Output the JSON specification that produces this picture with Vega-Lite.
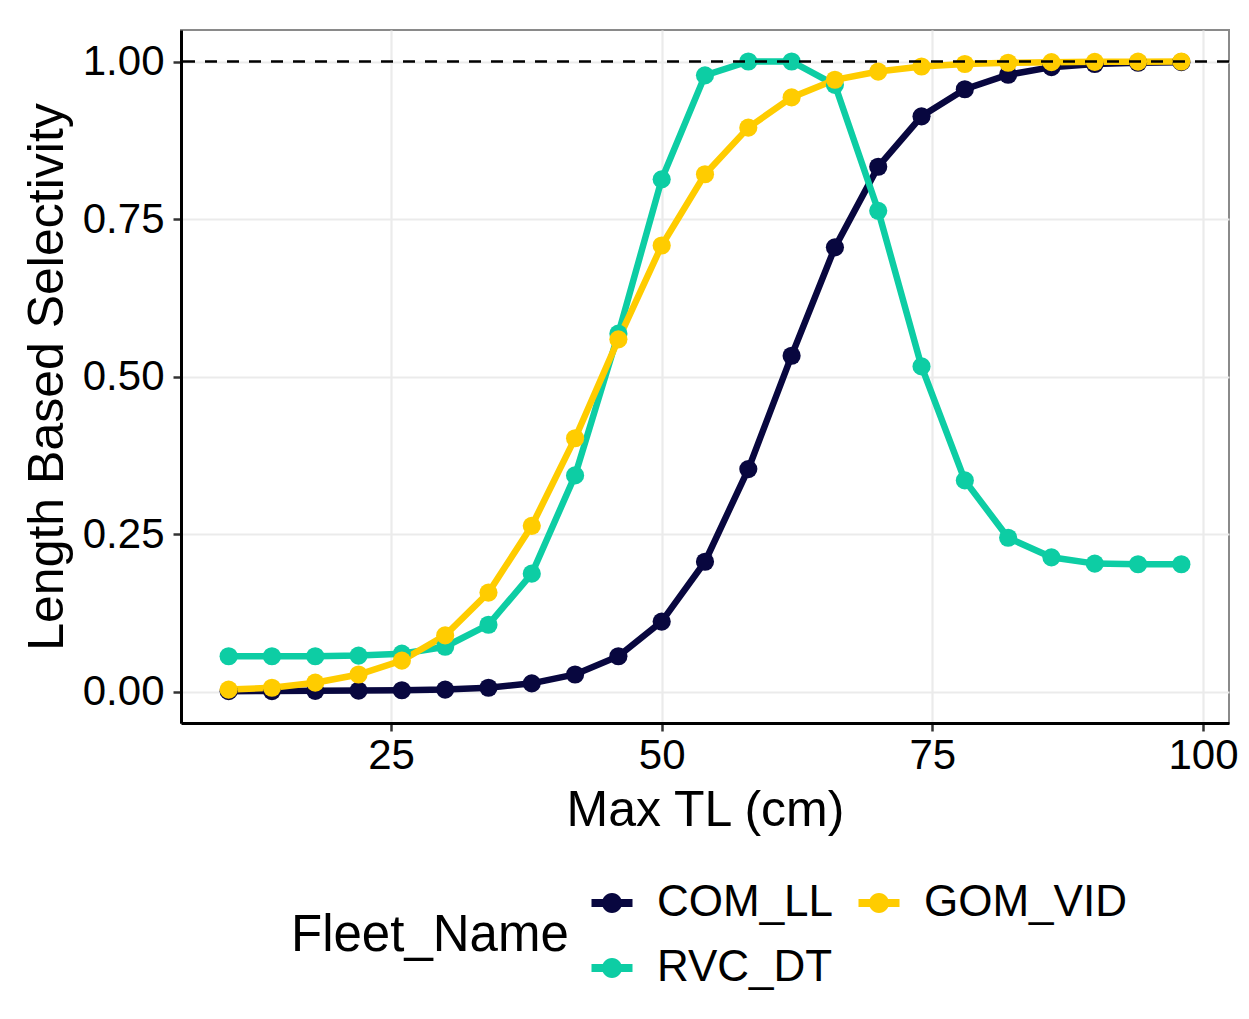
{
  "$schema": "https://vega.github.io/schema/vega-lite/v6.json",
  "width": 1048,
  "height": 693,
  "autosize": {"type": "none"},
  "padding": {"left": 181, "top": 30, "right": 20, "bottom": 296},
  "background": "white",
  "config": {
    "font": "Liberation Sans",
    "view": {"stroke": "#8a8a8a", "strokeWidth": 2},
    "axis": {
      "labelFont": "Liberation Sans",
      "titleFont": "Liberation Sans",
      "labelColor": "#000000",
      "titleColor": "#000000",
      "labelFontSize": 42,
      "titleFontSize": 50,
      "titleFontWeight": "normal",
      "gridColor": "#EBEBEB",
      "gridWidth": 2.2,
      "domainColor": "#000000",
      "domainWidth": 3,
      "tickColor": "#333333",
      "tickWidth": 2.5,
      "tickSize": 8
    }
  },
  "datasets": {
    "sel": [
      {"TL": 10, "Fleet_Name": "COM_LL", "sel": 0.0005},
      {"TL": 14, "Fleet_Name": "COM_LL", "sel": 0.0007},
      {"TL": 18, "Fleet_Name": "COM_LL", "sel": 0.001},
      {"TL": 22, "Fleet_Name": "COM_LL", "sel": 0.0015},
      {"TL": 26, "Fleet_Name": "COM_LL", "sel": 0.002},
      {"TL": 30, "Fleet_Name": "COM_LL", "sel": 0.003},
      {"TL": 34, "Fleet_Name": "COM_LL", "sel": 0.006},
      {"TL": 38, "Fleet_Name": "COM_LL", "sel": 0.013},
      {"TL": 42, "Fleet_Name": "COM_LL", "sel": 0.027},
      {"TL": 46, "Fleet_Name": "COM_LL", "sel": 0.056},
      {"TL": 50, "Fleet_Name": "COM_LL", "sel": 0.111},
      {"TL": 54, "Fleet_Name": "COM_LL", "sel": 0.206},
      {"TL": 58, "Fleet_Name": "COM_LL", "sel": 0.353},
      {"TL": 62, "Fleet_Name": "COM_LL", "sel": 0.533},
      {"TL": 66, "Fleet_Name": "COM_LL", "sel": 0.705},
      {"TL": 70, "Fleet_Name": "COM_LL", "sel": 0.833},
      {"TL": 74, "Fleet_Name": "COM_LL", "sel": 0.913},
      {"TL": 78, "Fleet_Name": "COM_LL", "sel": 0.956},
      {"TL": 82, "Fleet_Name": "COM_LL", "sel": 0.979},
      {"TL": 86, "Fleet_Name": "COM_LL", "sel": 0.991},
      {"TL": 90, "Fleet_Name": "COM_LL", "sel": 0.996},
      {"TL": 94, "Fleet_Name": "COM_LL", "sel": 0.998},
      {"TL": 98, "Fleet_Name": "COM_LL", "sel": 0.999},
      {"TL": 10, "Fleet_Name": "RVC_DT", "sel": 0.056},
      {"TL": 14, "Fleet_Name": "RVC_DT", "sel": 0.056},
      {"TL": 18, "Fleet_Name": "RVC_DT", "sel": 0.056},
      {"TL": 22, "Fleet_Name": "RVC_DT", "sel": 0.057},
      {"TL": 26, "Fleet_Name": "RVC_DT", "sel": 0.060},
      {"TL": 30, "Fleet_Name": "RVC_DT", "sel": 0.071},
      {"TL": 34, "Fleet_Name": "RVC_DT", "sel": 0.106},
      {"TL": 38, "Fleet_Name": "RVC_DT", "sel": 0.187},
      {"TL": 42, "Fleet_Name": "RVC_DT", "sel": 0.343},
      {"TL": 46, "Fleet_Name": "RVC_DT", "sel": 0.568},
      {"TL": 50, "Fleet_Name": "RVC_DT", "sel": 0.813},
      {"TL": 54, "Fleet_Name": "RVC_DT", "sel": 0.978},
      {"TL": 58, "Fleet_Name": "RVC_DT", "sel": 1.0},
      {"TL": 62, "Fleet_Name": "RVC_DT", "sel": 1.0},
      {"TL": 66, "Fleet_Name": "RVC_DT", "sel": 0.963},
      {"TL": 70, "Fleet_Name": "RVC_DT", "sel": 0.763},
      {"TL": 74, "Fleet_Name": "RVC_DT", "sel": 0.516},
      {"TL": 78, "Fleet_Name": "RVC_DT", "sel": 0.335},
      {"TL": 82, "Fleet_Name": "RVC_DT", "sel": 0.244},
      {"TL": 86, "Fleet_Name": "RVC_DT", "sel": 0.213},
      {"TL": 90, "Fleet_Name": "RVC_DT", "sel": 0.203},
      {"TL": 94, "Fleet_Name": "RVC_DT", "sel": 0.202},
      {"TL": 98, "Fleet_Name": "RVC_DT", "sel": 0.202},
      {"TL": 10, "Fleet_Name": "GOM_VID", "sel": 0.003},
      {"TL": 14, "Fleet_Name": "GOM_VID", "sel": 0.006},
      {"TL": 18, "Fleet_Name": "GOM_VID", "sel": 0.014},
      {"TL": 22, "Fleet_Name": "GOM_VID", "sel": 0.027},
      {"TL": 26, "Fleet_Name": "GOM_VID", "sel": 0.049},
      {"TL": 30, "Fleet_Name": "GOM_VID", "sel": 0.089},
      {"TL": 34, "Fleet_Name": "GOM_VID", "sel": 0.157},
      {"TL": 38, "Fleet_Name": "GOM_VID", "sel": 0.263},
      {"TL": 42, "Fleet_Name": "GOM_VID", "sel": 0.402},
      {"TL": 46, "Fleet_Name": "GOM_VID", "sel": 0.559},
      {"TL": 50, "Fleet_Name": "GOM_VID", "sel": 0.708},
      {"TL": 54, "Fleet_Name": "GOM_VID", "sel": 0.821},
      {"TL": 58, "Fleet_Name": "GOM_VID", "sel": 0.895},
      {"TL": 62, "Fleet_Name": "GOM_VID", "sel": 0.943},
      {"TL": 66, "Fleet_Name": "GOM_VID", "sel": 0.971},
      {"TL": 70, "Fleet_Name": "GOM_VID", "sel": 0.984},
      {"TL": 74, "Fleet_Name": "GOM_VID", "sel": 0.992},
      {"TL": 78, "Fleet_Name": "GOM_VID", "sel": 0.996},
      {"TL": 82, "Fleet_Name": "GOM_VID", "sel": 0.998},
      {"TL": 86, "Fleet_Name": "GOM_VID", "sel": 0.999},
      {"TL": 90, "Fleet_Name": "GOM_VID", "sel": 0.9995},
      {"TL": 94, "Fleet_Name": "GOM_VID", "sel": 0.9998},
      {"TL": 98, "Fleet_Name": "GOM_VID", "sel": 1.0}
    ],
    "ref": [{"level": 1}]
  },
  "layer": [
    {
      "data": {"name": "sel"},
      "mark": {
        "type": "line",
        "strokeWidth": 6.5,
        "point": {"filled": true, "size": 330, "opacity": 1}
      },
      "encoding": {
        "x": {
          "field": "TL",
          "type": "quantitative",
          "scale": {"domain": [5.6, 102.4], "nice": false, "zero": false},
          "axis": {
            "title": "Max TL (cm)",
            "values": [25, 50, 75, 100],
            "labelPadding": 4,
            "titlePadding": 9
          }
        },
        "y": {
          "field": "sel",
          "type": "quantitative",
          "scale": {"domain": [-0.05, 1.05], "nice": false, "zero": false},
          "axis": {
            "title": "Length Based Selectivity",
            "values": [0, 0.25, 0.5, 0.75, 1],
            "format": ".2f",
            "labelPadding": 9,
            "titlePadding": 10
          }
        },
        "color": {
          "field": "Fleet_Name",
          "type": "nominal",
          "scale": {
            "domain": ["COM_LL", "GOM_VID", "RVC_DT"],
            "range": ["#08073F", "#FFCC00", "#0DCDA4"]
          },
          "legend": {
            "orient": "none",
            "legendX": 110,
            "legendY": 851,
            "direction": "horizontal",
            "columns": 2,
            "title": "Fleet_Name",
            "titleOrient": "left",
            "titleAnchor": "middle",
            "titleBaseline": "middle",
            "titleFontSize": 51,
            "titleFontWeight": "normal",
            "titleColor": "#000000",
            "titleFont": "Liberation Sans",
            "titlePadding": 21,
            "titleLimit": 0,
            "labelLimit": 0,
            "labelFontSize": 44,
            "labelFont": "Liberation Sans",
            "labelColor": "#000000",
            "labelOffset": 23,
            "columnPadding": 23,
            "rowPadding": 21,
            "symbolType": "M-1,-0.2H-0.45V0.2H-1Z M0.45,-0.2H1V0.2H0.45Z M-0.49,0A0.49,0.49 0 1,1 0.49,0A0.49,0.49 0 1,1 -0.49,0Z",
            "symbolSize": 1681,
            "symbolStrokeWidth": 0,
            "encode": {
              "symbols": {
                "update": {
                  "fill": {"scale": "color", "field": "value"},
                  "stroke": {"value": "transparent"},
                  "opacity": {"value": 1}
                }
              }
            }
          }
        },
        "order": {"field": "TL", "type": "quantitative"}
      }
    },
    {
      "data": {"name": "ref"},
      "mark": {"type": "rule", "color": "#000000", "strokeWidth": 2.5, "strokeDash": [12, 10]},
      "encoding": {
        "y": {"field": "level", "type": "quantitative"}
      }
    }
  ]
}
